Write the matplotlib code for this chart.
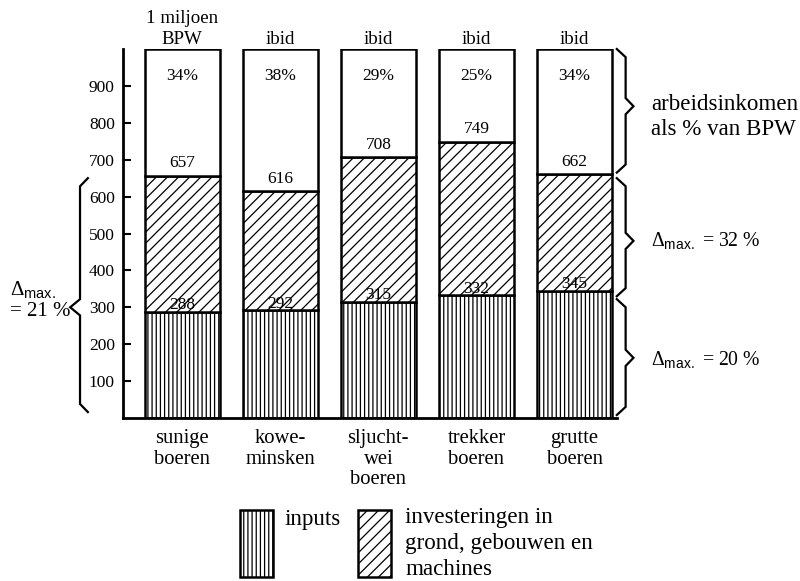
import matplotlib
matplotlib.use("Agg")
import matplotlib.pyplot as plt
from matplotlib.patches import Rectangle
import numpy as np

plt.rcParams['font.family'] = ['Liberation Serif', 'DejaVu Serif']
plt.rcParams['mathtext.fontset'] = 'custom'
plt.rcParams['mathtext.rm'] = 'Liberation Sans'
plt.rcParams['hatch.linewidth'] = 0.9

categories = ["sunige\nboeren", "kowe-\nminsken", "sljucht-\nwei\nboeren",
              "trekker\nboeren", "grutte\nboeren"]
headers = ["1 miljoen\nBPW", "ibid", "ibid", "ibid", "ibid"]
inputs = [288, 292, 315, 332, 345]
invest_top = [657, 616, 708, 749, 662]
total = [1000, 1000, 1000, 1000, 1000]
labour_pct = [34, 38, 29, 25, 34]
yticks = [100, 200, 300, 400, 500, 600, 700, 800, 900]

inputs_a = np.array(inputs)
top_a = np.array(invest_top)
total_a = np.array(total)
invest = top_a - inputs_a
labour = total_a - top_a
x = np.arange(len(categories))

fig = plt.figure(figsize=(8, 5.81), dpi=100)
ax = fig.add_axes([0.154, 0.2806, 0.617, 0.635])

w = 0.765
lw = 1.8
ax.bar(x, inputs_a, w, color='white', edgecolor='black', hatch='||||', linewidth=lw)
ax.bar(x, invest, w, bottom=inputs_a, color='white', edgecolor='black', hatch='///', linewidth=lw)
ax.bar(x, labour, w, bottom=top_a, color='white', edgecolor='black', linewidth=lw)

fs = 12.5
for i in x:
    ax.annotate(str(inputs[i]), (i, inputs[i]), xytext=(0, -1), textcoords='offset points',
                ha='center', va='bottom', fontsize=fs)
    ax.annotate(str(invest_top[i]), (i, invest_top[i]), xytext=(0, 3), textcoords='offset points',
                ha='center', va='bottom', fontsize=fs)
    ax.annotate(f"{labour_pct[i]}%", (i, total[i]), xytext=(0, -14), textcoords='offset points',
                ha='center', va='top', fontsize=fs)
    ax.annotate(headers[i], (i, total[i]), xytext=(0, 1), textcoords='offset points',
                ha='center', va='bottom', fontsize=13.6, linespacing=1.29)

ax.set_xlim(-0.6, 4.43)
ax.set_ylim(0, 1000)
ax.set_yticks(yticks)
ax.set_xticks(x)
ax.set_xticklabels(categories, fontsize=14.9, linespacing=1.11)
ax.tick_params(axis='x', length=0, pad=8)
ax.tick_params(axis='y', direction='in', length=6, width=1.5, pad=6, labelsize=fs)
for s in ['top', 'right']:
    ax.spines[s].set_visible(False)
for s in ['left', 'bottom']:
    ax.spines[s].set_linewidth(2)


def brace(xb, y0, y1, ytip, end, tip, r=22, s=1):
    """Angular brace: body at xb, ends bent by `end`, tip pointing by `tip` (s=+1 right)."""
    xs = [xb - s * end, xb, xb, xb + s * tip, xb, xb, xb - s * end]
    ys = [y0, y0 - r, ytip + r, ytip, ytip - r, y1 + r, y1]
    ax.plot(xs, ys, color='black', lw=1.6, clip_on=False, solid_joinstyle='miter')


brace(4.52, 1000, 665, 845, 0.09, 0.08)
brace(4.52, 650, 330, 480, 0.09, 0.08)
brace(4.52, 322, 8, 163, 0.09, 0.08)
brace(-1.04, 650, 16, 300, 0.08, 0.10, s=-1)

rfs = 16.6
dfs = 14.2
ax.text(4.78, 816, "arbeidsinkomen\nals % van BPW", ha='left', va='center',
        fontsize=rfs, linespacing=1.22, clip_on=False)
ax.text(4.78, 480, r"Δ$_\mathrm{max.}$ = 32 %", ha='left', va='center',
        fontsize=dfs, clip_on=False)
ax.text(4.78, 155, r"Δ$_\mathrm{max.}$ = 20 %", ha='left', va='center',
        fontsize=dfs, clip_on=False)
fig.text(0.012, 1 - 300 / 581, "Δ$_\\mathrm{max.}$\n= 21 %", ha='left', va='center',
         fontsize=15, linespacing=1.1)

# legend boxes
for bx, h in [(240, '||||'), (358, '///')]:
    fig.patches.append(Rectangle((bx / 800, 4 / 581), 33 / 800, 67 / 581,
                                 transform=fig.transFigure, facecolor='white',
                                 edgecolor='black', hatch=h, linewidth=1.8))
fig.text(284 / 800, 1 - 519 / 581, "inputs", ha='left', va='center', fontsize=rfs)
fig.text(405 / 800, 1 - 507 / 581, "investeringen in\ngrond, gebouwen en\nmachines",
         ha='left', va='top', fontsize=rfs, linespacing=1.3)

fig.savefig("out.png", dpi=100)
